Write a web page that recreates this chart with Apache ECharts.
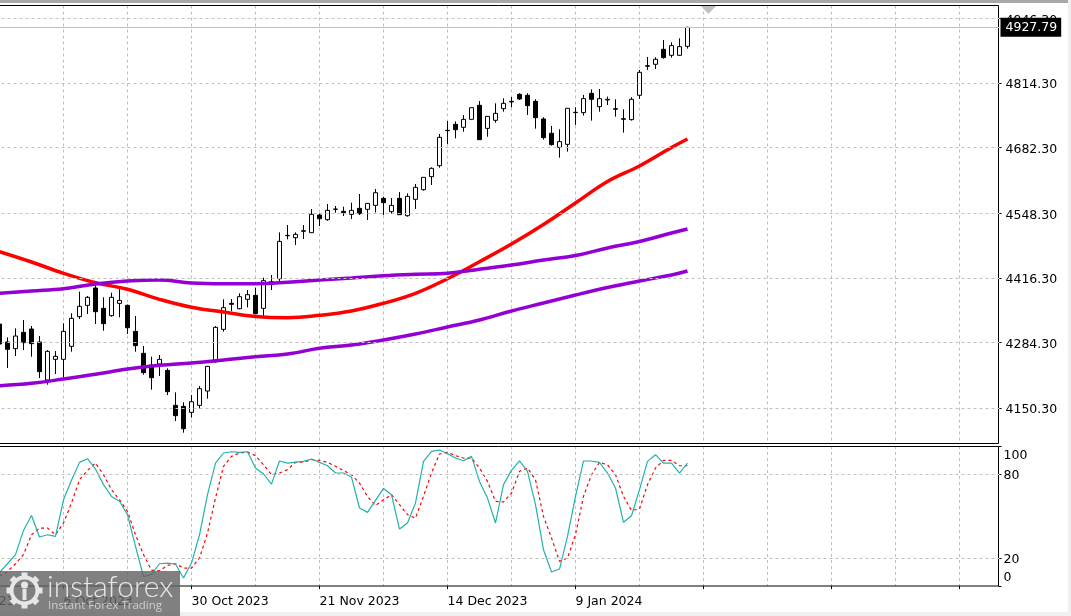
<!DOCTYPE html>
<html>
<head>
<meta charset="utf-8">
<title>Daily chart</title>
<script src="https://cdn.jsdelivr.net/npm/echarts@6/dist/echarts.min.js"></script>
<style>
  html, body { margin: 0; padding: 0; background: #fff; overflow: hidden; }
  #chart { width: 1071px; height: 616px; }
</style>
</head>
<body>
<div id="chart"></div>
<script>
// Tick labels
const priceTicks = [4946.30, 4814.30, 4682.30, 4548.30, 4416.30, 4284.30, 4150.30];
const stochTicks = [0, 20, 80, 100];
const stochLevels = [20, 80];
const dateTicks = ['14 Sep 2023', '6 Oct 2023', '30 Oct 2023', '21 Nov 2023', '14 Dec 2023', '9 Jan 2024'];
const lastPrice = 4927.79;

// Daily candles: open, close, low, high
const candles = [
  [4322, 4281.4, 4272, 4327],
  [4285.5, 4270.5, 4232.4, 4295],
  [4271.9, 4297.7, 4256.9, 4313.4],
  [4305.2, 4284.1, 4269.1, 4330.4],
  [4312, 4282.1, 4255.5, 4318.1],
  [4285.5, 4224.9, 4212, 4297.7],
  [4207.9, 4266.4, 4198.4, 4269.1],
  [4250.1, 4256.2, 4220.1, 4267.1],
  [4250.1, 4307.2, 4213.3, 4323.6],
  [4276.6, 4333.8, 4265.7, 4344],
  [4337.2, 4358.3, 4332.4, 4388.2],
  [4360.3, 4376.7, 4342.6, 4379.4],
  [4395.7, 4347.4, 4322.2, 4401.8],
  [4354.2, 4322.9, 4308.6, 4376.7],
  [4339.2, 4376.7, 4337.2, 4386.2],
  [4364.4, 4370.5, 4335.8, 4395],
  [4360.3, 4314.7, 4301.8, 4362],
  [4307.2, 4278, 4265.7, 4338.5],
  [4262.3, 4222.9, 4218.8, 4277.3],
  [4238.5, 4212.6, 4188.2, 4255.5],
  [4240.6, 4250.1, 4216.1, 4258.9],
  [4227.6, 4184.1, 4177.3, 4231.7],
  [4156.2, 4135.1, 4124.2, 4182.7],
  [4154.1, 4108.5, 4100.4, 4162.3],
  [4141.9, 4163.6, 4131, 4177.3],
  [4156.2, 4190.2, 4149.4, 4195.6],
  [4185.4, 4235.8, 4169.8, 4236.5],
  [4245.3, 4315.4, 4243.3, 4318.1],
  [4311.3, 4355.6, 4306.6, 4372.6],
  [4364.4, 4362.4, 4348.8, 4373.2],
  [4353.5, 4378, 4352.2, 4384.8],
  [4372.6, 4382.1, 4356.2, 4391.6],
  [4380.7, 4343.3, 4341.9, 4396.4],
  [4354.2, 4410.7, 4338.5, 4416.8],
  [4408.6, 4407.3, 4391.6, 4422.2],
  [4414.7, 4490.9, 4405.2, 4509.3],
  [4502.5, 4503.2, 4495, 4524.3],
  [4498.4, 4505.2, 4483.5, 4509.3],
  [4511.4, 4512.7, 4495.7, 4524.3],
  [4508.6, 4546.1, 4508.6, 4557],
  [4544.7, 4537.2, 4522.2, 4548.1],
  [4535.2, 4554.2, 4533.1, 4567.2],
  [4556.3, 4556.9, 4549.5, 4563.1],
  [4552.2, 4549.5, 4542.7, 4561.7],
  [4546.1, 4554.2, 4536.5, 4569.9],
  [4558.3, 4547.4, 4544.7, 4587.6],
  [4556.3, 4568.5, 4534.5, 4568.5],
  [4564.4, 4590.3, 4550.1, 4597.8],
  [4578.7, 4569.9, 4544.7, 4582.1],
  [4551.5, 4564.4, 4546.7, 4579.4],
  [4578.7, 4545.4, 4544.7, 4591.6],
  [4543.3, 4582.8, 4541.3, 4588.9],
  [4576.7, 4601.2, 4557, 4608],
  [4596.4, 4621.6, 4594.4, 4621.6],
  [4623, 4640, 4606, 4642],
  [4645.4, 4703.3, 4641.3, 4710.1],
  [4716.9, 4717.6, 4689.6, 4736.6],
  [4729.8, 4718.9, 4701.2, 4735.9],
  [4723.7, 4740, 4714.8, 4748.8],
  [4740, 4763.8, 4740, 4763.8],
  [4768.6, 4698.5, 4697.8, 4777.4],
  [4721.6, 4746.1, 4704.6, 4746.1],
  [4738, 4752.2, 4733.2, 4772.7],
  [4761.8, 4772.7, 4755.7, 4782.9],
  [4775.5, 4776.8, 4764.6, 4785.7],
  [4791.1, 4781.6, 4779.5, 4793.2],
  [4789.1, 4768, 4748.9, 4793.2],
  [4776.8, 4743.5, 4721, 4780.9],
  [4740.8, 4702.7, 4698.6, 4744.2],
  [4711.5, 4688.4, 4686.3, 4726.5],
  [4682.9, 4694.5, 4661.8, 4719.7],
  [4689, 4762.5, 4674.1, 4762.5],
  [4753.7, 4754.4, 4728.5, 4764.6],
  [4753.7, 4782.3, 4747.6, 4789.8],
  [4793.1, 4780.9, 4737.4, 4801.3],
  [4765.9, 4782.3, 4755.7, 4802],
  [4779.5, 4780.9, 4769.3, 4786.4],
  [4760.5, 4761.8, 4745.5, 4780.9],
  [4740.1, 4741.4, 4712.9, 4760.5],
  [4739.4, 4780.9, 4737.4, 4785],
  [4789.1, 4836, 4781.6, 4840.8],
  [4848.3, 4849.6, 4840.8, 4867.3],
  [4852.4, 4862.6, 4842.8, 4866.7],
  [4883, 4866, 4863.9, 4902],
  [4870.7, 4890.5, 4866, 4897.3],
  [4870.7, 4888.4, 4869.4, 4905.4],
  [4889.1, 4927.79, 4884.4, 4929]
];

// Moving averages, read every fourth bar
const maBars = [8, 12, 16, 20, 24, 28, 32, 36, 40, 44, 48, 52, 56, 60, 64, 68, 72, 76, 80, 84, 88, 92, 94];
const maRed = [4469.8, 4448.8, 4425.7, 4406.5, 4393.1, 4372.6, 4356.3, 4346.7, 4337.5, 4335.1, 4339.9, 4348.8, 4364.5, 4384.9, 4414.7, 4449.4, 4485.5, 4525.3, 4569.2, 4613.1, 4644.8, 4682.5, 4699.9];
const maUpper = [4384.9, 4389.6, 4394.3, 4403.9, 4410, 4412, 4405.9, 4404.5, 4404.5, 4407.4, 4412, 4416.1, 4420.8, 4423.7, 4425.7, 4433.9, 4442.6, 4452.9, 4462.1, 4477.4, 4490.6, 4508, 4516.2];
const maLower = [4196.3, 4201.2, 4209.9, 4219.5, 4230.3, 4237.9, 4242.6, 4248.7, 4255.5, 4261, 4272.6, 4279.3, 4289.6, 4301.8, 4316.1, 4330.4, 4348.8, 4365.1, 4381.4, 4396.7, 4410, 4422.3, 4430.4];

// Stochastic oscillator
const stochK = [9.7, 15.9, 22.4, 39.7, 50.4, 35, 36.6, 35.4, 61.6, 75.5, 88.3, 90.9, 83.5, 72.4, 64, 60.5, 50.9, 28.3, 6.6, 8.3, 15.9, 16.4, 15.7, 5.7, 16.4, 36.6, 65.2, 87.8, 95, 95.9, 95.5, 95.9, 84.3, 80, 72.8, 89.3, 87.8, 88.5, 89, 90.7, 88.3, 85.9, 80.7, 80.7, 77.8, 55.7, 52.6, 61.2, 69.7, 65.2, 40.7, 45, 59.3, 89, 96.2, 97.1, 94.5, 91.4, 89.5, 92.6, 74.7, 62.8, 45, 72.4, 82.6, 89.3, 81.9, 58.1, 25.9, 10, 12.1, 35.4, 64, 89.3, 89.3, 88.3, 80.7, 70, 45.5, 50.2, 68.8, 89, 93.8, 87.8, 87.8, 80.7, 87.8];
const stochD = [6.9, 10.4, 15.9, 22.4, 36.6, 41.4, 41.4, 36.6, 45, 59.3, 75.9, 82.6, 87.8, 79.5, 68.8, 61.6, 53.3, 36.6, 22.4, 11.2, 10.9, 14.7, 15.9, 12.8, 12.8, 20, 37.8, 62.8, 85.5, 92.6, 95, 95.7, 93.1, 86.6, 79.5, 80.7, 83.1, 88.3, 88.5, 90.2, 89.7, 88.3, 85.5, 82.4, 79.5, 73.5, 64, 57.4, 61.6, 65.2, 58.1, 50.9, 48.5, 64, 80.7, 94.3, 95.5, 93.1, 91.4, 91.4, 84.3, 74.7, 60.5, 60, 66.4, 81.9, 84.3, 75.9, 49.7, 34.3, 17.6, 20, 36.6, 64, 79.5, 88.3, 86.6, 79.5, 64, 54, 55, 72.4, 84.3, 89.7, 89.7, 85.9, 85.9];

// bars to the left of the window, then the empty space on the right
const BAR_COUNT = 134;
const LEAD = 8;
const categories = Array.from({ length: BAR_COUNT }, (_, i) => String(i));
const pad = (arr, empty) => new Array(LEAD).fill(empty).concat(arr);
const pairs = (values) => values.map((v, i) => [maBars[i], v]);

const FONT = 'DejaVu Sans';
const FONT_SIZE = 12.5;
const GRID_LEFT = -64.5;
const GRID_WIDTH = 1064;
const dashed = { color: '#c0c0c0', width: 1, type: [3, 3] };

function xAxisFor(gridIndex, showLabels) {
    return {
        type: 'category',
        gridIndex,
        data: categories,
        boundaryGap: false,
        axisLine: { show: false },
        axisTick: { show: showLabels, interval: 15, length: 3, lineStyle: { color: '#000' } },
        axisLabel: {
            show: showLabels,
            interval: 15,
            align: 'left',
            margin: 9,
            color: '#000',
            fontFamily: FONT,
            fontSize: FONT_SIZE,
            formatter: (value, index) => dateTicks[index / 16] || ''
        },
        splitLine: { show: true, interval: 7, lineStyle: dashed }
    };
}

function gridLines(values) {
    return {
        silent: true,
        symbol: 'none',
        label: { show: false },
        lineStyle: dashed,
        data: values.map(v => ({ yAxis: v }))
    };
}

function maLine(name, values, color) {
    return {
        name,
        type: 'line',
        data: pairs(values),
        showSymbol: false,
        smooth: 0.4,
        z: 4,
        lineStyle: { color, width: 3.5 }
    };
}

const stochLabel = (lineHeight) => ({ lineHeight, fontFamily: FONT, fontSize: FONT_SIZE, color: '#000' });

const option = {
    animation: false,
    backgroundColor: '#fff',
    grid: [
        { left: GRID_LEFT, width: GRID_WIDTH, top: 5.5, height: 438, outerBoundsMode: 'none' },
        { left: GRID_LEFT, width: GRID_WIDTH, top: 446, height: 140, outerBoundsMode: 'none' }
    ],
    xAxis: [xAxisFor(0, false), xAxisFor(1, true)],
    yAxis: [
        {
            type: 'value',
            gridIndex: 0,
            position: 'right',
            offset: -1,
            min: 4078.3,
            max: 4972.4,
            splitLine: { show: false },
            axisLine: { show: false },
            axisTick: { show: true, length: 3, customValues: priceTicks, lineStyle: { color: '#000' } },
            axisLabel: {
                customValues: priceTicks,
                margin: 7,
                verticalAlign: 'top',
                lineHeight: 4,
                color: '#000',
                fontFamily: FONT,
                fontSize: FONT_SIZE,
                formatter: v => v.toFixed(2)
            }
        },
        {
            type: 'value',
            gridIndex: 1,
            position: 'right',
            offset: -1,
            min: 0,
            max: 100,
            splitLine: { show: false },
            axisLine: { show: false },
            axisTick: { show: true, length: 3, customValues: stochTicks, lineStyle: { color: '#000' } },
            axisLabel: {
                customValues: stochTicks,
                margin: 5,
                verticalAlign: 'top',
                verticalAlignMaxLabel: 'top',
                verticalAlignMinLabel: 'bottom',
                formatter: v => `{v${v}|${v}}`,
                rich: {
                    v0: stochLabel(16),
                    v20: stochLabel(4),
                    v80: stochLabel(4),
                    v100: stochLabel(20)
                }
            }
        }
    ],
    series: [
        {
            // holds the horizontal grid and the last price line
            type: 'line',
            xAxisIndex: 0,
            yAxisIndex: 0,
            data: [],
            z: 1,
            markLine: gridLines(priceTicks)
        },
        {
            type: 'line',
            xAxisIndex: 0,
            yAxisIndex: 0,
            data: [],
            z: 1,
            markLine: {
                silent: true,
                symbol: 'none',
                lineStyle: { color: '#c0c0c0', width: 1, type: 'solid' },
                label: {
                    position: 'end',
                    distance: 1,
                    formatter: lastPrice.toFixed(2),
                    color: '#fff',
                    backgroundColor: '#000',
                    fontFamily: FONT,
                    fontSize: FONT_SIZE,
                    padding: [4, 4, 2, 5]
                },
                data: [{ yAxis: lastPrice }]
            }
        },
        {
            type: 'line',
            xAxisIndex: 1,
            yAxisIndex: 1,
            data: [],
            z: 1,
            markLine: gridLines(stochLevels)
        },
        {
            name: 'Price',
            type: 'candlestick',
            xAxisIndex: 0,
            yAxisIndex: 0,
            data: pad(candles, [null, null, null, null]),
            barWidth: 4,
            z: 3,
            itemStyle: {
                color: '#fff',
                color0: '#000',
                borderColor: '#000',
                borderColor0: '#000',
                borderWidth: 1
            }
        },
        maLine('MA red', maRed, '#ff0000'),
        maLine('MA upper', maUpper, '#9400d3'),
        maLine('MA lower', maLower, '#9400d3'),
        {
            name: '%D',
            type: 'line',
            xAxisIndex: 1,
            yAxisIndex: 1,
            data: pad(stochD, null),
            showSymbol: false,
            z: 3,
            lineStyle: { color: '#ff0000', width: 1.2, type: [3, 3] }
        },
        {
            name: '%K',
            type: 'line',
            xAxisIndex: 1,
            yAxisIndex: 1,
            data: pad(stochK, null),
            showSymbol: false,
            z: 4,
            lineStyle: { color: '#20b2aa', width: 1.2 }
        }
    ],
    graphic: buildDecor()
};

// window frame, chart shift marker and the watermark
function buildDecor() {
    const frame = { fill: 'none', stroke: '#000', lineWidth: 1 };
    const white = '#e6e6e6';
    const items = [
        { type: 'rect', z: 0, shape: { x: 0, y: 0, width: 1071, height: 3 }, style: { fill: '#a8a8a8' } },
        { type: 'rect', z: 0, shape: { x: 0, y: 612, width: 1071, height: 4 }, style: { fill: '#f0f0f0' } },
        { type: 'rect', z: 0, shape: { x: 1068, y: 0, width: 3, height: 616 }, style: { fill: '#f0f0f0' } },
        { type: 'rect', z: 5, shape: { x: -3, y: 5.5, width: 1001.5, height: 438 }, style: frame },
        { type: 'rect', z: 5, shape: { x: -3, y: 446.5, width: 1001.5, height: 139.5 }, style: frame },
        { type: 'polygon', z: 5, shape: { points: [[701, 6], [716, 6], [708.5, 14]] }, style: { fill: '#c0c0c0' } },
        { type: 'rect', z: 100, shape: { x: 0, y: 571, width: 180, height: 45 }, style: { fill: 'rgba(100,100,100,0.82)' } },
        { type: 'text', z: 101, style: { x: 47, y: 572, text: 'instaforex', fill: white, font: '300 30px Lato' } },
        { type: 'text', z: 101, style: { x: 48, y: 600, text: 'Instant Forex Trading', fill: '#cfcfcf', font: '11.5px "Open Sans"' } },
        { type: 'ring', z: 101, shape: { cx: 24.5, cy: 590.5, r: 15, r0: 11 }, style: { fill: white } },
        { type: 'circle', z: 101, shape: { cx: 24.5, cy: 585, r: 3.5 }, style: { fill: white } },
        { type: 'rect', z: 101, shape: { x: 22.5, y: 589, width: 4, height: 11 }, style: { fill: white } }
    ];
    for (let a = 0; a < 8; a++) {
        items.push({
            type: 'rect',
            z: 101,
            x: 24.5,
            y: 590.5,
            rotation: a * Math.PI / 4,
            shape: { x: -3, y: -18, width: 6, height: 6 },
            style: { fill: white }
        });
    }
    return { elements: items };
}

const chart = echarts.init(document.getElementById('chart'), null, { renderer: 'canvas' });
chart.setOption(option);
</script>
</body>
</html>
